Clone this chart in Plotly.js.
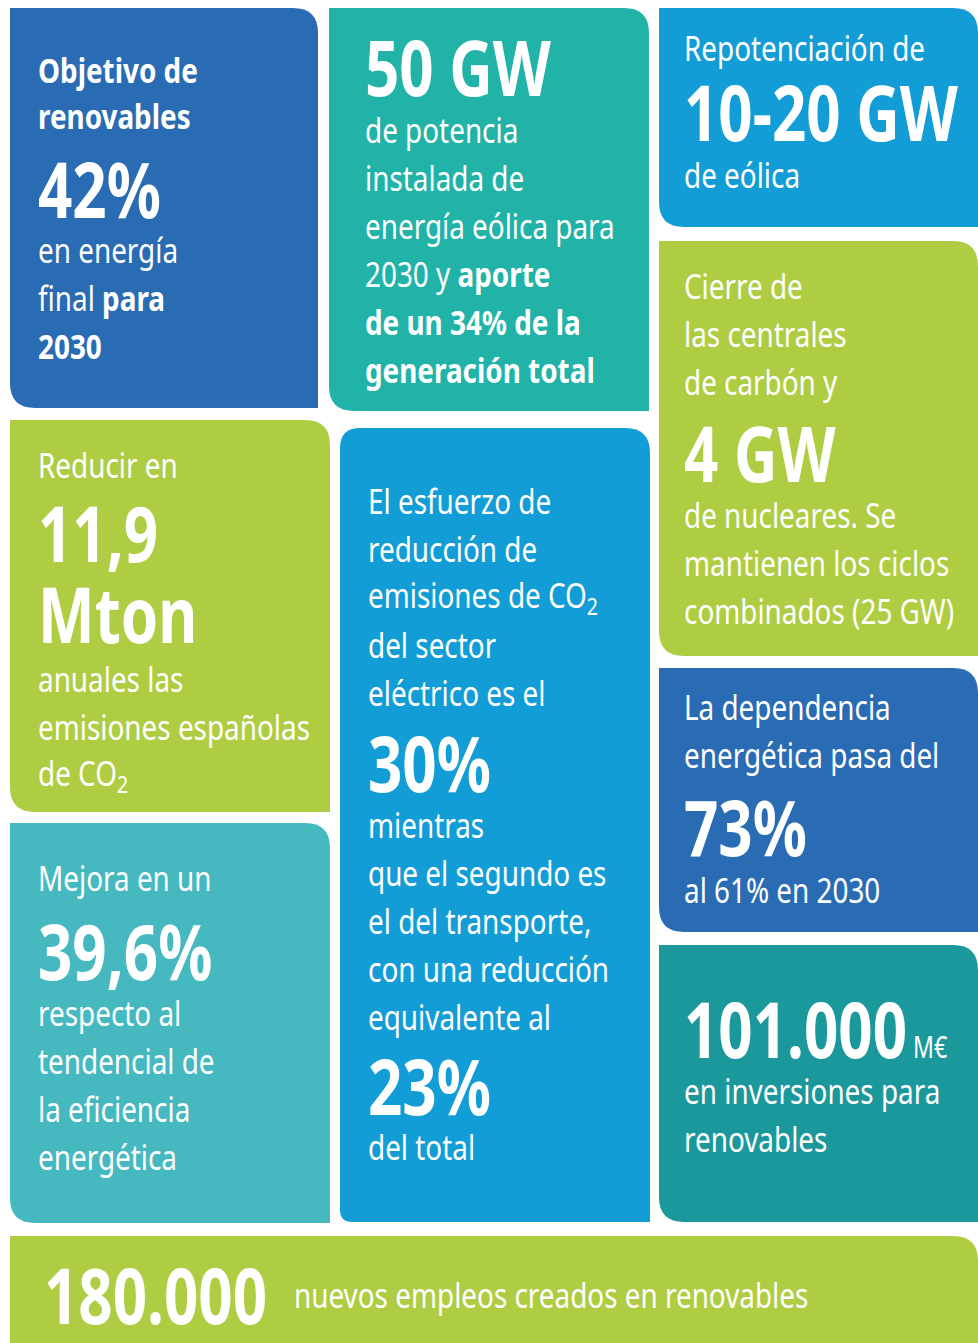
<!DOCTYPE html>
<html>
<head>
<meta charset="utf-8">
<script src="https://cdn.plot.ly/plotly-3.0.1.min.js"></script>
<style>html,body{margin:0;padding:0;background:#fff;}#chart{width:978px;height:1343px;}</style>
</head>
<body>
<div id="chart"></div>
<script>
// ---- Text content (data) ----
const objetivoLines = ["<b>Objetivo de</b>", "<b>renovables</b>", "<b>42%</b>", "en energía", "final <b>para</b>", "<b>2030</b>"];
const eolicaLines = ["<b>50 GW</b>", "de potencia", "instalada de", "energía eólica para", "2030 y <b>aporte</b>", "<b>de un 34% de la</b>", "<b>generación total</b>"];
const repotLines = ["Repotenciación de", "<b>10-20 GW</b>", "de eólica"];
const cierreLines = ["Cierre de", "las centrales", "de carbón y", "<b>4 GW</b>", "de nucleares. Se", "mantienen los ciclos", "combinados (25 GW)"];
const reducirLines = ["Reducir en", "<b>11,9</b>", "<b>Mton</b>", "anuales las", "emisiones españolas", "de CO<sub>2</sub>"];
const esfuerzoLines = ["El esfuerzo de", "reducción de", "emisiones de CO<sub>2</sub>", "del sector", "eléctrico es el", "<b>30%</b>", "mientras", "que el segundo es", "el del transporte,", "con una reducción", "equivalente al", "<b>23%</b>", "del total"];
const mejoraLines = ["Mejora en un", "<b>39,6%</b>", "respecto al", "tendencial de", "la eficiencia", "energética"];
const dependenciaLines = ["La dependencia", "energética pasa del", "<b>73%</b>", "al 61% en 2030"];
const inversionLines = ["<b>101.000</b><span style=\"font-size:30px\"> M€</span>", "en inversiones para", "renovables"];
const empleoLines = ["<b>180.000</b>", "nuevos empleos creados en renovables"];

// ---- Layout specs (positions / styles) ----
const FONT = "Noto Sans, sans-serif";
const BODY = 34, BIG = 78;
const SX_BODY = 0.82, SX_BIG = 0.77;
const C = {dblue:"#2a6cb3", teal:"#21b3a7", lblue:"#139dd6", green:"#afcd42", lteal:"#46b9c0", dteal:"#1b989c"};

const tiles = [
  {box:[10,8,318,408], r:[0,25,0,25], color:C.dblue, x:38, lines:objetivoLines,
   ys:[70,116,188,250,298,346], big:[0,0,1,0,0,0]},
  {box:[329,8,649,411], r:[0,25,0,25], color:C.teal, x:365, lines:eolicaLines,
   ys:[66,130,178,226,274,322,370], big:[1,0,0,0,0,0,0]},
  {box:[659,8,978,227], r:[0,25,0,25], color:C.lblue, x:684, lines:repotLines,
   ys:[48,111,175], big:[0,1,0]},
  {box:[659,241,978,656], r:[0,25,0,25], color:C.green, x:684, lines:cierreLines,
   ys:[286,334,382,452,515,563,611], big:[0,0,0,1,0,0,0]},
  {box:[10,420,330,812], r:[0,25,0,25], color:C.green, x:38, lines:reducirLines,
   ys:[465,532,613,679,727,775], big:[0,1,1,0,0,0]},
  {box:[340,428,650,1222], r:[20,25,0,12], color:C.lblue, x:368, lines:esfuerzoLines,
   ys:[501,549,597,645,693,762,825,873,921,969,1017,1085,1147], big:[0,0,0,0,0,1,0,0,0,0,0,1,0]},
  {box:[10,823,330,1223], r:[0,25,0,25], color:C.lteal, x:38, lines:mejoraLines,
   ys:[878,950,1013,1061,1109,1157], big:[0,1,0,0,0,0]},
  {box:[659,668,978,932], r:[0,25,0,25], color:C.dblue, x:684, lines:dependenciaLines,
   ys:[707,755,826,890], big:[0,0,1,0]},
  {box:[659,945,978,1222], r:[0,25,0,25], color:C.dteal, x:684, lines:inversionLines,
   ys:[1028,1091,1139], big:[1,0,0]},
  {box:[10,1236,978,1380], r:[0,25,0,25], color:C.green, x:45, lines:empleoLines,
   ys:[1294,1295], big:[1,0], xs:[44,294]}
];

function rr(b, r){
  const [x0,y0,x1,y1] = b; const [tl,tr,br,bl] = r;
  return `M${x0+tl},${y0} L${x1-tr},${y0} Q${x1},${y0} ${x1},${y0+tr} L${x1},${y1-br} Q${x1},${y1} ${x1-br},${y1} `+
         `L${x0+bl},${y1} Q${x0},${y1} ${x0},${y1-bl} L${x0},${y0+tl} Q${x0},${y0} ${x0+tl},${y0} Z`;
}

const shapes = tiles.map(t => ({type:"path", xref:"x", yref:"y", path:rr(t.box,t.r),
  fillcolor:t.color, line:{width:0}, layer:"below"}));

const annotations = [];
const isBig = [];
tiles.forEach(t => {
  t.lines.forEach((txt,i) => {
    isBig.push(!!t.big[i]);
    annotations.push({
      x: t.xs ? t.xs[i] : t.x, y: t.ys[i], xref:"x", yref:"y",
      xanchor:"left", yanchor:"middle", showarrow:false, align:"left",
      borderpad:0, borderwidth:0,
      text: txt,
      font:{family:FONT, size: t.big[i] ? BIG : BODY, color:"#ffffff"}
    });
  });
});

const layout = {
  width:978, height:1343,
  margin:{l:0,r:0,t:0,b:0},
  paper_bgcolor:"#ffffff", plot_bgcolor:"#ffffff",
  xaxis:{range:[0,978], visible:false, fixedrange:true},
  yaxis:{range:[1343,0], visible:false, fixedrange:true},
  shapes:shapes, annotations:annotations, showlegend:false
};

function condense(gd){
  annotations.forEach((a,i) => {
    const el = gd.querySelector(`g.annotation[data-index="${i}"] text.annotation-text`);
    if(!el) return;
    const bb = el.getBBox();
    const s = isBig[i] ? SX_BIG : SX_BODY;
    el.setAttribute("transform", `translate(${bb.x},0) scale(${s},1) translate(${-bb.x},0)`);
  });
}

Plotly.newPlot("chart", [{x:[0,978], y:[0,1343], mode:"markers", marker:{opacity:0}, hoverinfo:"skip"}], layout, {displayModeBar:false, staticPlot:true})
  .then(gd => condense(gd));
</script>
</body>
</html>
